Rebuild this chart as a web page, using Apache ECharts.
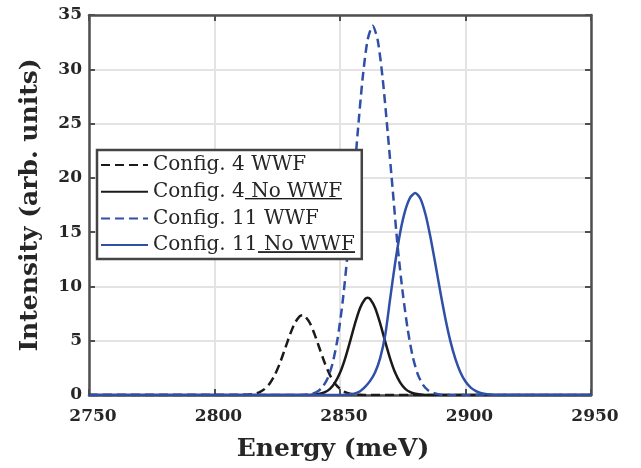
<!DOCTYPE html>
<html><head><meta charset="utf-8">
<script src="https://cdn.jsdelivr.net/npm/echarts@6/dist/echarts.min.js"></script>
<style>html,body{margin:0;padding:0;background:#fff}#c{width:641px;height:468px}</style>
</head><body><div id="c"></div>
<script>
// ---- data ----
const seriesNames = ['Config. 4 WWF', 'Config. 4 No WWF', 'Config. 11 WWF', 'Config. 11 No WWF'];
const xTicks = [2750, 2800, 2850, 2900, 2950];
const yTicks = [0, 5, 10, 15, 20, 25, 30, 35];

const energyA = [2750, 2810, 2812, 2814, 2816, 2818, 2820, 2822, 2824, 2826, 2828, 2830, 2832, 2834, 2835, 2836, 2838, 2840, 2842, 2844, 2846, 2848, 2850, 2852, 2854, 2856, 2858, 2860, 2950];
const intensityA = [0, 0, 0.02, 0.05, 0.12, 0.27, 0.56, 1.06, 1.83, 2.90, 4.19, 5.52, 6.63, 7.27, 7.35, 7.27, 6.63, 5.52, 4.19, 2.90, 1.83, 1.06, 0.56, 0.27, 0.12, 0.05, 0.02, 0, 0];

const energyB = [2750, 2838, 2840, 2842, 2844, 2846, 2848, 2850, 2852, 2854, 2856, 2858, 2860, 2861, 2862, 2864, 2866, 2868, 2870, 2872, 2874, 2876, 2878, 2880, 2882, 2884, 2950];
const intensityB = [0, 0, 0.04, 0.11, 0.26, 0.57, 1.14, 2.04, 3.33, 4.92, 6.60, 8.02, 8.84, 8.95, 8.84, 8.02, 6.60, 4.92, 3.33, 2.04, 1.14, 0.57, 0.26, 0.11, 0.04, 0, 0];

const energyC = [2750, 2835, 2837, 2839, 2841, 2843, 2845, 2847, 2849, 2851, 2853, 2855, 2857, 2859, 2861, 2863, 2865, 2867, 2869, 2871, 2873, 2875, 2877, 2879, 2881, 2883, 2885, 2887, 2889, 2891, 2950];
const intensityC = [0, 0, 0.05, 0.13, 0.32, 0.72, 1.49, 2.88, 5.13, 8.48, 12.96, 18.34, 24.03, 29.14, 32.71, 34.0, 32.71, 29.14, 24.2, 18.9, 13.6, 9.4, 6.0, 3.5, 1.9, 0.95, 0.45, 0.2, 0.08, 0, 0];

const energyD = [2750, 2850, 2852, 2854, 2856, 2858, 2860, 2862, 2864, 2866, 2868, 2870, 2872, 2874, 2876, 2878, 2880, 2882, 2884, 2886, 2888, 2890, 2892, 2894, 2896, 2898, 2900, 2902, 2904, 2906, 2908, 2910, 2912, 2950];
const intensityD = [0, 0, 0.02, 0.06, 0.15, 0.35, 0.75, 1.3, 2.1, 3.4, 5.5, 8.9, 12.2, 15.0, 17.0, 18.2, 18.6, 18.10, 16.69, 14.58, 12.07, 9.46, 7.03, 4.94, 3.30, 2.08, 1.24, 0.70, 0.38, 0.19, 0.09, 0.04, 0, 0];

// ---- styling ----
const BLACK = '#1a1a1a';
const BLUE = '#2f50a6';
const AXIS = '#4f4f4f';
const TEXT = '#262626';
const SERIF = 'DejaVu Serif';

const pair = (xs, ys) => xs.map((x, i) => [x, ys[i]]);

// underline image for legend text
const ul = document.createElement('canvas');
ul.width = 8; ul.height = 26;
const uctx = ul.getContext('2d');
uctx.fillStyle = BLACK;
uctx.fillRect(0, 21, 8, 2);

function mkSeries(name, xs, ys, color, dashed) {
  return {
    name: name, type: 'line', data: pair(xs, ys), symbol: 'none',
    smooth: 0.25,
    lineStyle: { color: color, width: 2.5, type: dashed ? [9, 5] : 'solid' },
    itemStyle: { color: color }, animation: false
  };
}

const axisLineStyle = { show: true, onZero: false, lineStyle: { color: AXIS, width: 2.5 } };
const tickStyle = { show: true, inside: true, length: 6, lineStyle: { color: AXIS, width: 2 } };
const labelFont = { fontFamily: SERIF, fontWeight: 'bold', fontSize: 17, color: TEXT, formatter: v => String(v) };
const nameFont = { fontFamily: SERIF, fontWeight: 'bold', fontSize: 25, color: TEXT };

const chart = echarts.init(document.getElementById('c'), null, { renderer: 'canvas' });
chart.setOption({
  backgroundColor: '#fff',
  animation: false,
  grid: { left: 89, right: 50, top: 15, bottom: 73, containLabel: false },
  xAxis: [
    { type: 'value', position: 'bottom', min: xTicks[0], max: xTicks[xTicks.length - 1], interval: xTicks[1] - xTicks[0],
      axisLine: axisLineStyle, axisTick: tickStyle,
      splitLine: { show: true, lineStyle: { color: '#e3e3e3', width: 2 } },
      axisLabel: Object.assign({ margin: 13, padding: [0, 0, 0, 8] }, labelFont),
      name: 'Energy (meV)', nameLocation: 'middle', nameGap: 42, nameTextStyle: Object.assign({ padding: [0, 14, 0, 0] }, nameFont) },
    { type: 'value', position: 'top', min: xTicks[0], max: xTicks[xTicks.length - 1], interval: xTicks[1] - xTicks[0],
      axisLine: axisLineStyle, axisTick: tickStyle, axisLabel: { show: false }, splitLine: { show: false } }
  ],
  yAxis: [
    { type: 'value', position: 'left', min: yTicks[0], max: yTicks[yTicks.length - 1], interval: yTicks[1] - yTicks[0],
      axisLine: axisLineStyle, axisTick: tickStyle,
      splitLine: { show: true, lineStyle: { color: '#e3e3e3', width: 2 } },
      axisLabel: Object.assign({ margin: 7 }, labelFont),
      name: 'Intensity (arb. units)', nameLocation: 'middle', nameGap: 46, nameTextStyle: nameFont },
    { type: 'value', position: 'right', min: yTicks[0], max: yTicks[yTicks.length - 1], interval: yTicks[1] - yTicks[0],
      axisLine: axisLineStyle, axisTick: tickStyle, axisLabel: { show: false }, splitLine: { show: false } }
  ],
  legend: {
    orient: 'vertical', left: 97, top: 150, padding: [2, 7, 1, 3],
    itemWidth: 47, itemHeight: 20, itemGap: 0.7,
    backgroundColor: '#fff', borderColor: '#444', borderWidth: 2.5, borderRadius: 0,
    itemStyle: { opacity: 0, borderWidth: 0 },
    data: seriesNames,
    formatter: function (name) {
      const i = name.indexOf(' No WWF');
      if (i < 0) return name;
      return name.slice(0, i) + '{u|' + name.slice(i) + '}';
    },
    textStyle: {
      fontFamily: SERIF, fontSize: 20, color: TEXT, lineHeight: 26,
      rich: { u: { fontFamily: SERIF, fontSize: 20, color: TEXT, lineHeight: 26, backgroundColor: { image: ul } } }
    }
  },
  series: [
    mkSeries(seriesNames[0], energyA, intensityA, BLACK, true),
    mkSeries(seriesNames[1], energyB, intensityB, BLACK, false),
    mkSeries(seriesNames[2], energyC, intensityC, BLUE, true),
    mkSeries(seriesNames[3], energyD, intensityD, BLUE, false)
  ]
});
</script>
</body></html>
